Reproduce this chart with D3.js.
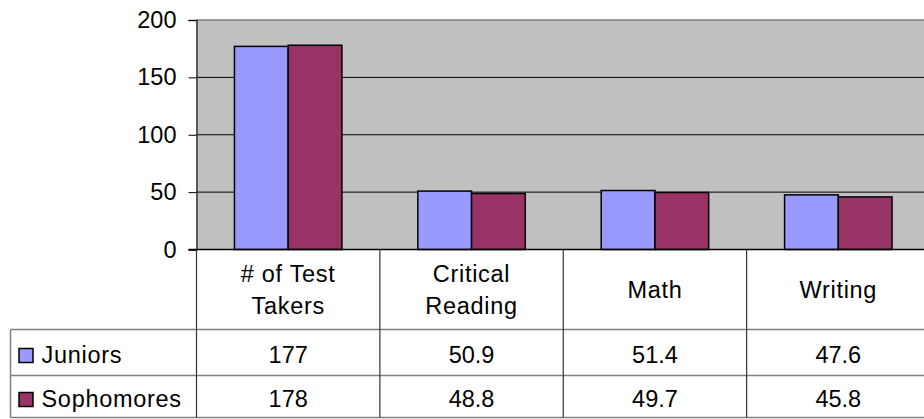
<!DOCTYPE html>
<html>
<head>
<meta charset="utf-8">
<script src="https://d3js.org/d3.v7.min.js"></script>
<style>
  body { margin: 0; background: #fff; }
  text { font-family: "Liberation Sans", Arial, sans-serif; fill: #000; }
  .word { letter-spacing: 0.7px; }
</style>
</head>
<body>
<div id="chart"></div>
<script>
// data
var categories = [["# of Test", "Takers"], ["Critical", "Reading"], ["Math"], ["Writing"]];
var seriesNames = ["Juniors", "Sophomores"];
var juniors = [177, 50.9, 51.4, 47.6];
var sophomores = [178, 48.8, 49.7, 45.8];
var valueLabels = [["177", "50.9", "51.4", "47.6"], ["178", "48.8", "49.7", "45.8"]];
var yTicks = [0, 50, 100, 150, 200];
var colors = ["#9999ff", "#993366"];

var W = 924, H = 419;
var plotLeft = 196.5, plotRight = 930, plotTop = 20, plotBottom = 249.5;
var tableLeft = 10.5, headerBottom = 329.5, row1Bottom = 375.5, row2Bottom = 417.5;

var svg = d3.select("#chart").append("svg")
  .attr("width", W).attr("height", H);

var x = d3.scaleBand()
  .domain(d3.range(categories.length))
  .range([plotLeft, plotRight])
  .paddingInner(0).paddingOuter(0);

var xs = d3.scaleBand()
  .domain([0, 1])
  .range([x.bandwidth() * 0.207, x.bandwidth() * 0.793]);

var y = d3.scaleLinear().domain([0, 200]).range([plotBottom, plotTop]);

// plot area
svg.append("rect")
  .attr("x", plotLeft).attr("y", plotTop)
  .attr("width", plotRight - plotLeft).attr("height", plotBottom - plotTop)
  .attr("fill", "#c0c0c0");

// gridlines
svg.append("g").selectAll("line")
  .data(yTicks.filter(function(d) { return d > 0 && d < 200; }))
  .enter().append("line")
  .attr("x1", plotLeft).attr("x2", plotRight)
  .attr("y1", function(d) { return y(d); })
  .attr("y2", function(d) { return y(d); })
  .attr("stroke", "#000").attr("stroke-width", 1);

svg.append("line")
  .attr("x1", plotLeft).attr("x2", plotRight)
  .attr("y1", y(200)).attr("y2", y(200))
  .attr("stroke", "#808080").attr("stroke-width", 1.5);

// y axis
var yAxis = svg.append("g")
  .attr("transform", "translate(" + plotLeft + ",0)")
  .call(d3.axisLeft(y).tickValues(yTicks).tickSize(8).tickPadding(12));
yAxis.select(".domain").attr("stroke", "#333").attr("stroke-width", 1.5);
yAxis.selectAll(".tick line").attr("stroke", "#000");
yAxis.selectAll(".tick text")
  .style("font-family", "Liberation Sans, Arial, sans-serif")
  .style("font-size", "23.5px").attr("fill", "#000");

// bars
var series = [juniors, sophomores];
series.forEach(function(vals, s) {
  svg.append("g").selectAll("rect")
    .data(vals)
    .enter().append("rect")
    .attr("x", function(d, i) { return x(i) + xs(s); })
    .attr("y", function(d) { return y(d); })
    .attr("width", xs.bandwidth())
    .attr("height", function(d) { return y(0) - y(d); })
    .attr("fill", colors[s])
    .attr("stroke", "#000").attr("stroke-width", 1.5);
});

// baseline
svg.append("line")
  .attr("x1", plotLeft - 8).attr("x2", plotRight)
  .attr("y1", y(0)).attr("y2", y(0))
  .attr("stroke", "#000").attr("stroke-width", 1.5);

// data table
var table = svg.append("g");

[headerBottom, row1Bottom, row2Bottom].forEach(function(yy) {
  table.append("line")
    .attr("x1", tableLeft).attr("x2", plotRight)
    .attr("y1", yy).attr("y2", yy)
    .attr("stroke", "#808080").attr("stroke-width", 1.5);
});

table.append("line")
  .attr("x1", tableLeft).attr("x2", tableLeft)
  .attr("y1", headerBottom).attr("y2", row2Bottom)
  .attr("stroke", "#808080").attr("stroke-width", 1.5);

table.selectAll(".vline")
  .data(d3.range(categories.length + 1))
  .enter().append("line")
  .attr("x1", function(i) { return plotLeft + i * x.bandwidth(); })
  .attr("x2", function(i) { return plotLeft + i * x.bandwidth(); })
  .attr("y1", plotBottom).attr("y2", row2Bottom)
  .attr("stroke", "#333").attr("stroke-width", 1.2);

// header labels
categories.forEach(function(lines, i) {
  var cx = x(i) + x.bandwidth() / 2;
  var mid = (plotBottom + headerBottom) / 2;
  var lh = 32;
  var first = mid - (lines.length - 1) * lh / 2 + 8;
  var t = table.append("text")
    .attr("class", "word")
    .attr("text-anchor", "middle")
    .style("font-size", "23.5px");
  lines.forEach(function(line, k) {
    t.append("tspan")
      .attr("x", cx)
      .attr("y", first + k * lh)
      .text(line);
  });
});

// rows
var rowMids = [(headerBottom + row1Bottom) / 2, (row1Bottom + row2Bottom) / 2];
seriesNames.forEach(function(name, s) {
  var my = rowMids[s];
  table.append("rect")
    .attr("x", 19).attr("y", my - 4)
    .attr("width", 14).attr("height", 14)
    .attr("fill", colors[s])
    .attr("stroke", "#000").attr("stroke-width", 1.5);
  table.append("text")
    .attr("class", "word")
    .attr("x", 41.5).attr("y", my + 10)
    .style("font-size", "23.5px")
    .text(name);
  valueLabels[s].forEach(function(v, i) {
    table.append("text")
      .attr("x", x(i) + x.bandwidth() / 2)
      .attr("y", my + 10)
      .attr("text-anchor", "middle")
      .style("font-size", "23.5px")
      .text(v);
  });
});
</script>
</body>
</html>
